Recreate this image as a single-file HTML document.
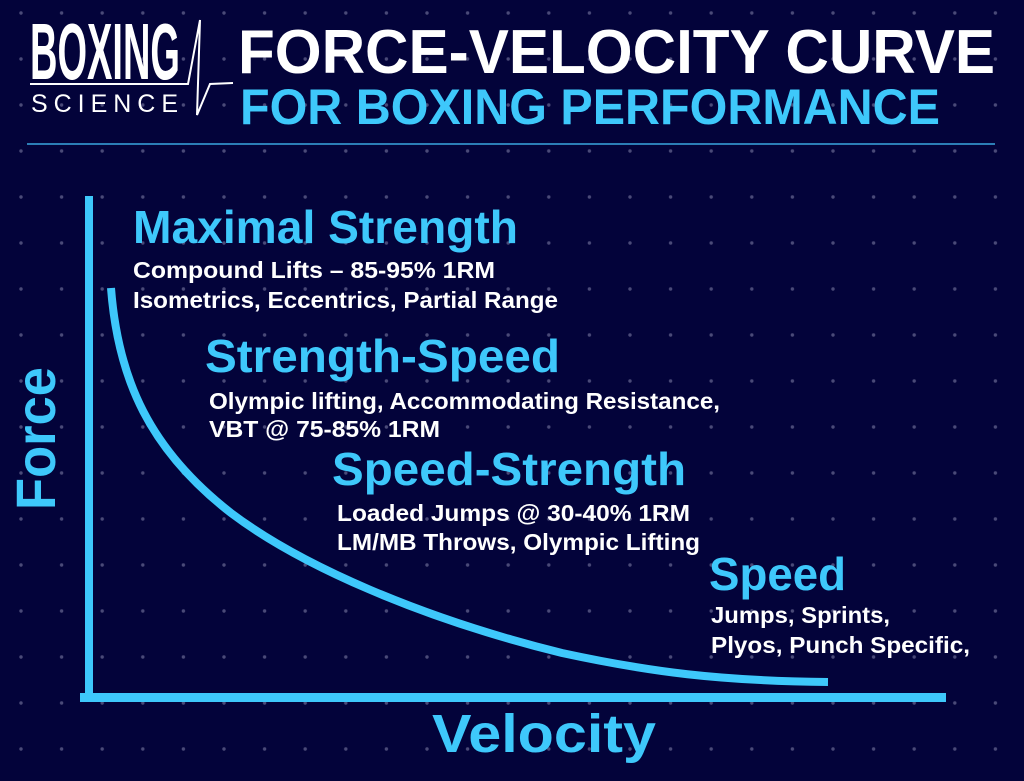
<!DOCTYPE html>
<html><head><meta charset="utf-8"><style>
html,body{margin:0;padding:0;background:#03033a;}
svg{display:block}
text{font-family:"Liberation Sans",sans-serif;font-weight:bold}
</style></head><body>
<svg width="1024" height="781" viewBox="0 0 1024 781" xmlns="http://www.w3.org/2000/svg">
<defs>
<pattern id="d" x="0" y="0" width="40.6" height="46" patternUnits="userSpaceOnUse" patternTransform="translate(0.7,-10)">
<circle cx="20.3" cy="23" r="1.7" fill="#4a4a78"/>
</pattern>
</defs>
<rect width="1024" height="781" fill="#03033a"/>
<rect width="1024" height="781" fill="url(#d)"/>
<!-- logo -->
<text x="30" y="79" font-size="80" fill="#fff" textLength="150" lengthAdjust="spacingAndGlyphs">BOXING</text>
<text x="31" y="112" font-size="25" fill="#fff" textLength="147" lengthAdjust="spacing" style="font-weight:normal">SCIENCE</text>
<path d="M30,84 L188,84 L200,20 L197,115 L210,84 L233,83" fill="none" stroke="#fff" stroke-width="2"/>
<!-- title -->
<text x="238" y="73" font-size="62" fill="#fff" textLength="757" lengthAdjust="spacingAndGlyphs">FORCE-VELOCITY CURVE</text>
<text x="240" y="124" font-size="50" fill="#3ec8fb" textLength="700" lengthAdjust="spacingAndGlyphs">FOR BOXING PERFORMANCE</text>
<line x1="27" y1="144" x2="995" y2="144" stroke="#3aa8e0" stroke-width="1.5"/>
<!-- axes -->
<rect x="85" y="196" width="8" height="506" fill="#3ec8fb"/>
<rect x="80" y="693" width="866" height="9" fill="#3ec8fb"/>
<path d="M111,288 C118,380 150,450 231,513 C300,565 420,618 562,653 C650,672 720,681 828,682" fill="none" stroke="#3ec8fb" stroke-width="8"/>
<!-- labels -->
<text transform="translate(55,510) rotate(-90)" font-size="56" fill="#3ec8fb" textLength="143" lengthAdjust="spacingAndGlyphs">Force</text>
<text x="432" y="752" font-size="54" fill="#3ec8fb" textLength="224" lengthAdjust="spacingAndGlyphs">Velocity</text>

<text x="133" y="243" font-size="46" fill="#3ec8fb" textLength="385" lengthAdjust="spacingAndGlyphs">Maximal Strength</text>
<text x="133" y="278" font-size="23" fill="#fff" textLength="362" lengthAdjust="spacingAndGlyphs">Compound Lifts – 85-95% 1RM</text>
<text x="133" y="308" font-size="23" fill="#fff" textLength="425" lengthAdjust="spacingAndGlyphs">Isometrics, Eccentrics, Partial Range</text>

<text x="205" y="372" font-size="46" fill="#3ec8fb" textLength="355" lengthAdjust="spacingAndGlyphs">Strength-Speed</text>
<text x="209" y="409" font-size="23" fill="#fff" textLength="511" lengthAdjust="spacingAndGlyphs">Olympic lifting, Accommodating Resistance,</text>
<text x="209" y="437" font-size="23" fill="#fff" textLength="231" lengthAdjust="spacingAndGlyphs">VBT @ 75-85% 1RM</text>

<text x="332" y="485" font-size="46" fill="#3ec8fb" textLength="354" lengthAdjust="spacingAndGlyphs">Speed-Strength</text>
<text x="337" y="521" font-size="23" fill="#fff" textLength="353" lengthAdjust="spacingAndGlyphs">Loaded Jumps @ 30-40% 1RM</text>
<text x="337" y="550" font-size="23" fill="#fff" textLength="363" lengthAdjust="spacingAndGlyphs">LM/MB Throws, Olympic Lifting</text>

<text x="709" y="590" font-size="46" fill="#3ec8fb" textLength="137" lengthAdjust="spacingAndGlyphs">Speed</text>
<text x="711" y="623" font-size="23" fill="#fff" textLength="179" lengthAdjust="spacingAndGlyphs">Jumps, Sprints,</text>
<text x="711" y="653" font-size="23" fill="#fff" textLength="259" lengthAdjust="spacingAndGlyphs">Plyos, Punch Specific,</text>
</svg>
</body></html>
